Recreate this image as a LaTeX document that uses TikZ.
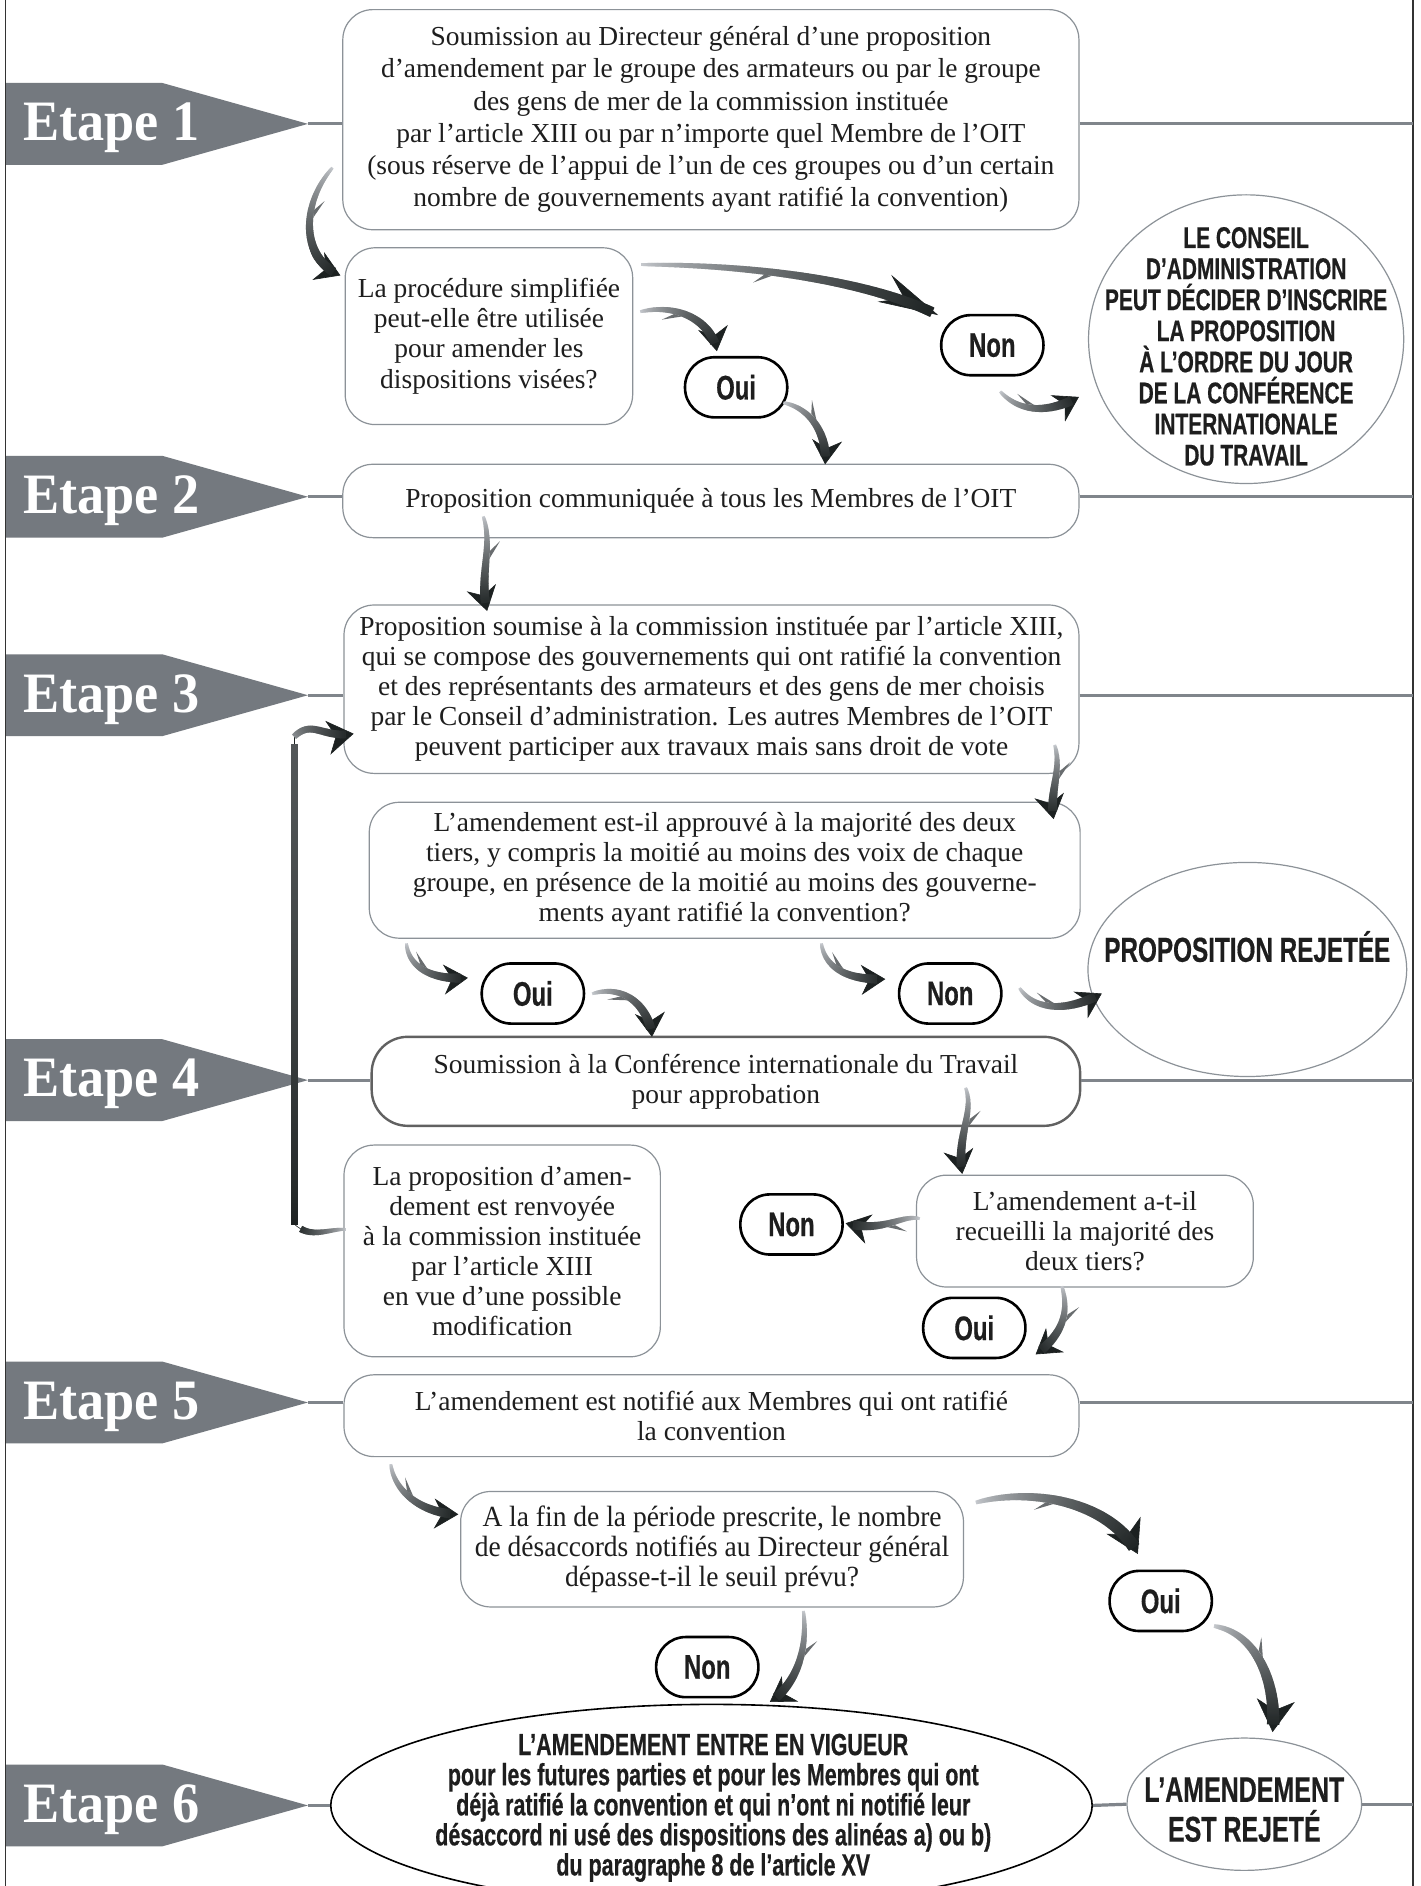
\documentclass[tikz,border=0pt]{standalone}
\usepackage{fontspec}
\setmainfont{Liberation Serif}
\newfontfamily\condsans[FakeStretch=0.7, BoldFeatures={FakeBold=0.5}]{Liberation Sans}
\newfontfamily\condserif[FakeStretch=0.94]{Liberation Serif}
\newfontfamily\etapefont[FakeStretch=0.95]{Liberation Serif}
\usetikzlibrary{shapes.geometric, decorations.markings, arrows.meta, calc}

\definecolor{etapegray}{RGB}{116,121,127}
\definecolor{linegray}{RGB}{128,133,139}
\definecolor{boxgray}{RGB}{140,146,152}
\definecolor{arrlight}{RGB}{214,217,222}
\definecolor{arrdark}{RGB}{28,33,33}
\definecolor{textblack}{RGB}{30,30,30}

\newcommand\farrowseg{%
  \pgfmathsetmacro\ft{(\pgfkeysvalueof{/pgf/decoration/mark info/distance from start})/(\pgfdecoratedpathlength)}%
  \pgfmathsetmacro\fe{max(\ft,0.001)^0.7}%
  \pgfmathsetmacro\fw{\fwA+(\fwB-\fwA)*\fe}%
  \pgfmathsetmacro\fc{max(0,min(100,\fcA+(\fcB-\fcA)*\fe))}%
  \fill[arrdark!\fc!arrlight] (-0.45pt,-\fw pt) rectangle (0.45pt,\fw pt);%
}
\newcommand\farrowbarb{%
  \ifnum\fbarb=0\relax\else
  \pgfmathsetmacro\fw{\fwA+(\fwB-\fwA)*0.55}%
  \pgfmathsetmacro\fc{\fcA+(\fcB-\fcA)*0.55}%
  \pgfmathsetmacro\fyA{\fbarb*\fw}%
  \pgfmathsetmacro\fyB{\fbarb*(\fw+4.5)}%
  \fill[arrdark!\fc!arrlight] (1pt,\fyA pt) -- (-8pt,\fyB pt) -- (-3pt,\fyA pt) -- cycle;%
  \fi}

\tikzset{
  fw0/.store in=\fwA, fw1/.store in=\fwB, fc0/.store in=\fcA, fc1/.store in=\fcB, fbarb/.store in=\fbarb,
  fw0=0.7, fw1=2.4, fc0=8, fc1=100, fbarb=1,
  farrow/.style={arrdark, line width=0.3pt, -{Stealth[length=12pt,width=15pt,inset=4pt]},
    postaction={decorate, decoration={markings,
      mark=between positions 0 and -4pt step 0.6pt with {\farrowseg},
      mark=at position 0.42 with {\farrowbarb}}}},
  bigarrow/.style={fw0=0.9, fw1=3.2, -{Stealth[length=16pt,width=19pt,inset=5pt]}}
}
\newcommand\farr[5][]{\draw[farrow,#1] (#2) .. controls (#3) and (#4) .. (#5);}

\newcommand\etape[3]{%
  \fill[etapegray] (5,#2-34) -- (135,#2-34) -- (256,#2) -- (135,#2+34) -- (5,#2+34) -- cycle;
  \coordinate (#1tip) at (256,#2);
  \node[etapetext] (#1) at (19,#2+14) {#3};
}

\begin{document}
\begin{tikzpicture}[x=0.6pt,y=-0.6pt,
  wh/.style 2 args={minimum width=#1*0.6pt, minimum height=#2*0.6pt},
  box/.style={draw=boxgray, line width=0.6pt, rounded corners=15pt, fill=white, align=center, inner sep=1pt, font=\fontsize{13.7}{15}\selectfont, text=textblack},
  pill/.style={draw=black, line width=1.3pt, rounded corners=14.8pt, fill=white, wh={85}{50}, inner sep=0pt, text=textblack, font=\condsans\bfseries\fontsize{17}{17}\selectfont},
  ell/.style={ellipse, draw=boxgray, line width=0.6pt, inner sep=0pt, fill=white},
  caps/.style={align=center, inner sep=0pt, text=textblack, font=\condsans\bfseries\fontsize{14.9}{15.5}\selectfont},
  stepline/.style={draw=linegray, line width=1.6pt},
  etapetext/.style={text=white, font=\etapefont\bfseries\fontsize{28.5}{28}\selectfont, inner sep=0pt, anchor=base west}
]
\useasboundingbox (0,0) rectangle (1181,1568);
\fill[white] (0,0) rectangle (1181,1568);

% frame
\coordinate (lb) at (4.5,0);
\coordinate (rb) at (1174.5,0);
\draw[line width=0.9pt, black!80] (lb) -- (4.5,1568);
\draw[line width=0.9pt, black!80] (rb) -- (1174.5,1568);

% etapes
\etape{e1}{103}{Etape 1}
\etape{e2}{413}{Etape 2}
\etape{e3}{578}{Etape 3}
\etape{e4}{898}{Etape 4}
\etape{e5}{1166}{Etape 5}
\etape{e6}{1501}{Etape 6}

% boxes
\node[box, wh={612}{183}, font=\fontsize{13.7}{16.1}\selectfont] (b1) at (591,99.5) {Soumission au Directeur général d’une proposition\\ d’amendement par le groupe des armateurs ou par le groupe\\ des gens de mer de la commission instituée\\ par l’article XIII ou par n’importe quel Membre de l’OIT\\ (sous réserve de l’appui de l’un de ces groupes ou d’un certain\\ nombre de gouvernements ayant ratifié la convention)};
\node[box, wh={239}{147}] (b2) at (406.5,279.5) {La procédure simplifiée\\ peut-elle être utilisée\\ pour amender les\\ dispositions visées?};
\node[box, wh={612}{61}] (be2) at (591,416.5) {Proposition communiquée à tous les Membres de l’OIT};
\node[box, wh={611}{140}] (be3) at (591.5,573) {Proposition soumise à la commission instituée par l’article XIII,\\ qui se compose des gouvernements qui ont ratifié la convention\\ et des représentants des armateurs et des gens de mer choisis\\ par le Conseil d’administration. Les autres Membres de l’OIT\\ peuvent participer aux travaux mais sans droit de vote};
\node[box, wh={591}{113}] (q3) at (602.5,723.5) {L’amendement est-il approuvé à la majorité des deux\\ tiers, y compris la moitié au moins des voix de chaque\\ groupe, en présence de la moitié au moins des gouverne-\\ ments ayant ratifié la convention?};
\node[box, wh={589}{74}, draw=black!62, line width=1.2pt, rounded corners=18pt] (be4) at (603.5,899) {Soumission à la Conférence internationale du Travail\\ pour approbation};
\node[box, wh={280}{93}] (q4) at (902,1023.5) {L’amendement a-t-il\\ recueilli la majorité des\\ deux tiers?};
\node[box, wh={263}{176}] (renv) at (417.5,1040) {La proposition d’amen-\\ dement est renvoyée\\ à la commission instituée\\ par l’article XIII\\ en vue d’une possible\\ modification};
\node[box, wh={611}{68}] (be5) at (591.5,1177) {L’amendement est notifié aux Membres qui ont ratifié\\ la convention};
\node[box, wh={418}{96}, font=\condserif\fontsize{14.6}{15}\selectfont] (q5) at (592,1288) {A la fin de la période prescrite, le nombre\\ de désaccords notifiés au Directeur général\\ dépasse-t-il le seuil prévu?};

% ellipses
\node[ell, wh={262}{240}] (ell1) at (1036,282) {};
\node[caps] (ell1t) at (1036,288) {LE CONSEIL\\ D’ADMINISTRATION\\ PEUT DÉCIDER D’INSCRIRE\\ LA PROPOSITION\\ À L’ORDRE DU JOUR\\ DE LA CONFÉRENCE\\ INTERNATIONALE\\ DU TRAVAIL};
\node[ell, wh={265}{178}] (pr) at (1037,806) {};
\node[caps, font=\condsans\bfseries\fontsize{17.3}{18}\selectfont] (prt) at (1037,787) {PROPOSITION REJETÉE};
\node[ell, draw=black, line width=0.8pt, wh={633}{168}] (bigell) at (591.5,1501) {};
\node[caps, font=\condsans\bfseries\fontsize{15.3}{15}\selectfont] (bigt) at (593,1503) {L’AMENDEMENT ENTRE EN VIGUEUR\\ pour les futures parties et pour les Membres qui ont\\ déjà ratifié la convention et qui n’ont ni notifié leur\\ désaccord ni usé des dispositions des alinéas a) ou b)\\ du paragraphe 8 de l’article XV};
\node[ell, wh={195}{110}] (smell) at (1034.5,1500) {};
\node[caps, font=\condsans\bfseries\fontsize{17.8}{19.8}\selectfont] (smt) at (1034.5,1504.5) {L’AMENDEMENT\\ EST REJETÉ};

% etape lines
\draw[stepline] (e1tip) -- (e1tip -| b1.west);
\draw[stepline] (b1.east |- e1tip) -- (e1tip -| rb);
\draw[stepline] (e2tip) -- (e2tip -| be2.west);
\draw[stepline] (be2.east |- e2tip) -- (e2tip -| rb);
\draw[stepline] (e3tip) -- (e3tip -| be3.west);
\draw[stepline] (be3.east |- e3tip) -- (e3tip -| rb);
\draw[stepline] (e4tip) -- (e4tip -| be4.west);
\draw[stepline] (be4.east |- e4tip) -- (e4tip -| rb);
\draw[stepline] (e5tip) -- (e5tip -| be5.west);
\draw[stepline] (be5.east |- e5tip) -- (e5tip -| rb);
\draw[stepline] (e6tip) -- (e6tip -| bigell.west);
\draw[stepline] (bigell.east) -- (smell.west);
\draw[stepline] (smell.east) -- (smell.east -| rb);

% pills
\node[pill] (oui1) at (612,322) {Oui};
\node[pill] (non1) at (825,287) {Non};
\node[pill] (oui2) at (443,826) {Oui};
\node[pill] (non2) at (790,826) {Non};
\node[pill] (non3) at (658,1018) {Non};
\node[pill] (oui3) at (810,1104) {Oui};
\node[pill] (non4) at (588,1386) {Non};
\node[pill] (oui4) at (965,1331) {Oui};

% arrow end points
\coordinate (a1s) at (276,140);   \coordinate (a1e) at (283,229);
\coordinate (a2s) at (534,220);   \coordinate (a2e) at (780,262);
\coordinate (a3s) at (533,259);   \coordinate (a3e) at (596,292);
\coordinate (a4s) at (832,326);   \coordinate (a4e) at (897,330);
\coordinate (a5s) at (652,335);   \coordinate (a5e) at (686,386);
\coordinate (a6s) at (402,430);   \coordinate (a6e) at (405,508);
\coordinate (a7s) at (877,620);   \coordinate (a7e) at (876,681);
\coordinate (a8s) at (338,785);   \coordinate (a8e) at (389,813);
\coordinate (a9s) at (493,826);   \coordinate (a9e) at (542,862);
\coordinate (a10s) at (683,785);  \coordinate (a10e) at (736,814);
\coordinate (a11s) at (848,822);  \coordinate (a11e) at (916,826);
\coordinate (a12s) at (803,905);  \coordinate (a12e) at (800,976);
\coordinate (a13s) at (764,1013); \coordinate (a13e) at (703,1017);
\coordinate (a14s) at (287,1022); \coordinate (a14m) at (245,1018); \coordinate (a14n) at (245,612); \coordinate (a14e) at (294,610);
\coordinate (a15s) at (883,1070); \coordinate (a15e) at (861,1126);
\coordinate (a16s) at (325,1218); \coordinate (a16e) at (381,1259);
\coordinate (a17s) at (812,1249); \coordinate (a17e) at (946,1292);
\coordinate (a18s) at (1010,1352); \coordinate (a18e) at (1058,1440);
\coordinate (a19s) at (668,1340); \coordinate (a19e) at (640,1415);

% arrows
\farr{a1s}{250,170}{250,215}{a1e}
\farr[fbarb=-1, fw1=2.6, -{Stealth[length=30pt,width=15pt,inset=11pt]}]{a2s}{620,220}{720,232}{a2e}
\farr[fbarb=-1]{a3s}{565,252}{592,268}{a3e}
\farr{a4s}{850,345}{875,342}{a4e}
\farr{a5s}{675,340}{688,362}{a5e}
\farr{a6s}{410,455}{398,480}{a6e}
\farr{a7s}{883,640}{872,660}{a7e}
\farr{a8s}{340,805}{360,815}{a8e}
\farr[fbarb=-1]{a9s}{520,818}{540,838}{a9e}
\farr{a10s}{686,805}{705,815}{a10e}
\farr{a11s}{862,842}{890,840}{a11e}
\farr{a12s}{810,925}{795,945}{a12e}
\farr{a13s}{748,1010}{735,1025}{a13e}
% loop back to etape 3
\draw[farrow, arrows=-, fbarb=0, fw0=0.6, fw1=1.8, fc0=10, fc1=100] (a14s) .. controls (272,1022) and (258,1030) .. (a14m);
\draw[farrow, arrows=-, fbarb=0, fw0=1.8, fw1=1.6, fc0=100, fc1=70] (a14m) -- (a14n);
\draw[farrow, fbarb=0, fw0=1.5, fw1=2.0, fc0=40, fc1=100, -{Stealth[length=13pt,width=17pt,inset=4pt]}] (a14n) .. controls (260,598) and (268,614) .. (a14e);
\farr{a15s}{890,1095}{880,1112}{a15e}
\farr{a16s}{328,1240}{350,1258}{a16e}
\farr[bigarrow, fbarb=-1]{a17s}{860,1236}{925,1250}{a17e}
\farr[bigarrow]{a18s}{1045,1358}{1062,1400}{a18e}
\farr{a19s}{672,1375}{660,1402}{a19e}
\end{tikzpicture}
\end{document}
